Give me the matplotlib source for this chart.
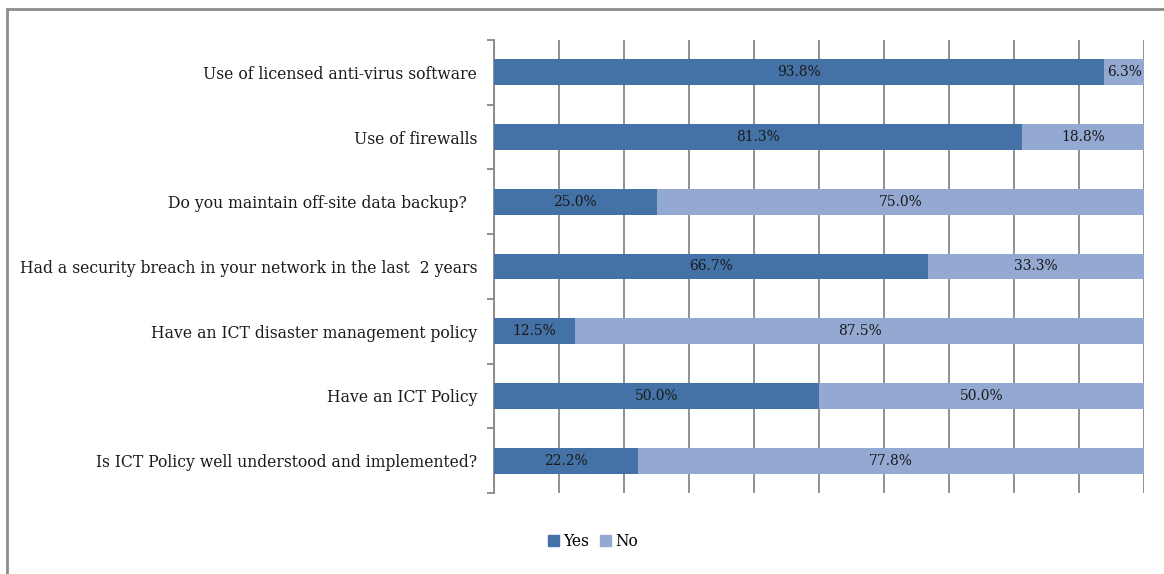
import matplotlib
matplotlib.use("Agg")
import matplotlib.pyplot as plt
from matplotlib.patches import Rectangle
import numpy as np

categories = [
    "Use of licensed anti-virus software",
    "Use of firewalls",
    "Do you maintain off-site data backup?  ",
    "Had a security breach in your network in the last  2 years",
    "Have an ICT disaster management policy",
    "Have an ICT Policy",
    "Is ICT Policy well understood and implemented?",
]
yes_pct = [93.8, 81.3, 25.0, 66.7, 12.5, 50.0, 22.2]
no_pct = [6.3, 18.8, 75.0, 33.3, 87.5, 50.0, 77.8]

yes_color = "#4472A7"
no_color = "#93A9D1"
grid_color = "#888888"
font = "DejaVu Serif"

fig = plt.figure(figsize=(11.64, 5.74), dpi=100)
ax = fig.add_axes([494 / 1164, 1 - 493 / 574, 650 / 1164, 453 / 574])

y = np.arange(len(categories))
yes = np.array(yes_pct)
no = np.array(no_pct)
h = 0.4
ax.barh(y, yes, height=h, color=yes_color, zorder=3)
ax.barh(y, no, left=yes, height=h, color=no_color, zorder=3)

for yi, a, b in zip(y, yes, no):
    ax.text(a / 2, yi, f"{a:.1f}%", ha="center", va="center",
            fontsize=10, family=font, color="#1a1a1a", zorder=4)
    ax.text(a + b / 2, yi, f"{b:.1f}%", ha="center", va="center",
            fontsize=10, family=font, color="#1a1a1a", zorder=4)

ax.set_xlim(0, 100)
ax.set_ylim(len(categories) - 0.5, -0.5)
ax.set_xticks(np.arange(0, 101, 10))
ax.tick_params(axis="x", length=0, labelbottom=False)
ax.grid(axis="x", color=grid_color, linewidth=1.3, zorder=1)

ax.set_yticks(y)
ax.set_yticklabels(categories, family=font, fontsize=11.25, color="#1a1a1a")
ax.tick_params(axis="y", which="major", length=0, pad=12)
ax.set_yticks(np.arange(-0.5, len(categories)), minor=True)
ax.tick_params(axis="y", which="minor", length=5, width=1.3,
               color=grid_color, direction="out")

for s in ["top", "right", "bottom"]:
    ax.spines[s].set_visible(False)
ax.spines["left"].set_color(grid_color)
ax.spines["left"].set_linewidth(1.3)

# legend
handles = [Rectangle((0, 0), 1, 1, color=yes_color),
           Rectangle((0, 0), 1, 1, color=no_color)]
fig.legend(handles, ["Yes", "No"], loc="center",
           bbox_to_anchor=(593 / 1164, 1 - 541 / 574), ncol=2, frameon=False,
           prop={"family": font, "size": 11.2}, handlelength=0.72,
           handleheight=0.72, handletextpad=0.25, columnspacing=0.7)

# chart frame
fig.patches.append(Rectangle((7 / 1164, -0.1), 1.2, 1 - 9 / 574 + 0.1,
                             transform=fig.transFigure, fill=False,
                             edgecolor="#8c8c8c", linewidth=2))

fig.savefig("out.png", dpi=100)
